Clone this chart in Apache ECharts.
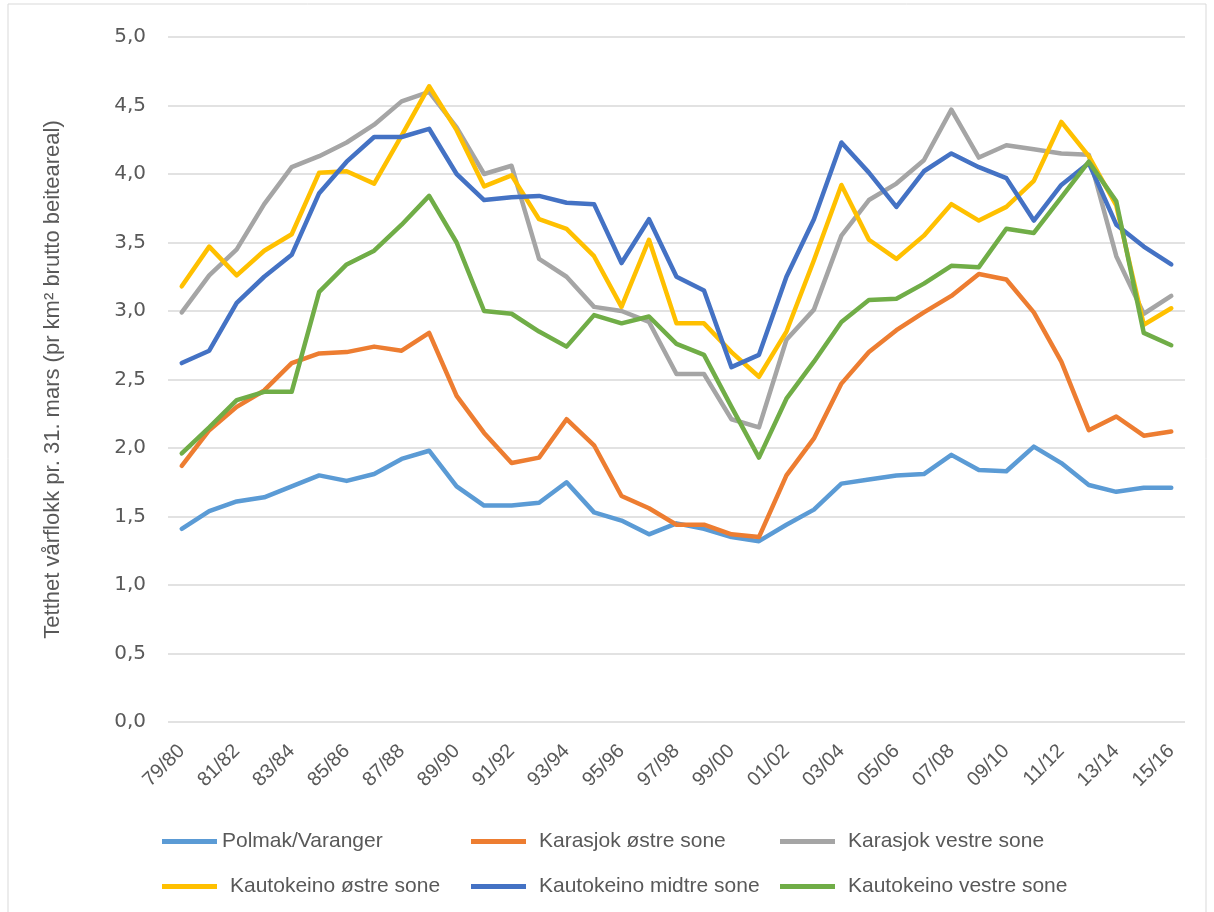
<!DOCTYPE html>
<html>
<head>
<meta charset="utf-8">
<title>Tetthet vårflokk</title>
<script src="https://cdn.jsdelivr.net/npm/echarts@6/dist/echarts.min.js"></script>
<style>
  html, body { margin: 0; padding: 0; background: #fff; }
  #chart { width: 1214px; height: 912px; }
</style>
</head>
<body>
<div id="chart"></div>
<script>
// sesonger (x-akse)
var seasons = ['79/80','80/81','81/82','82/83','83/84','84/85','85/86','86/87','87/88','88/89',
  '89/90','90/91','91/92','92/93','93/94','94/95','95/96','96/97','97/98','98/99',
  '99/00','00/01','01/02','02/03','03/04','04/05','05/06','06/07','07/08','08/09',
  '09/10','10/11','11/12','12/13','13/14','14/15','15/16'];

var polmak = [1.41,1.54,1.61,1.64,1.72,1.80,1.76,1.81,1.92,1.98,1.72,1.58,1.58,1.60,1.75,1.53,1.47,1.37,1.45,1.41,
  1.35,1.32,1.44,1.55,1.74,1.77,1.80,1.81,1.95,1.84,1.83,2.01,1.89,1.73,1.68,1.71,1.71];
var karasjokOst = [1.87,2.13,2.30,2.42,2.62,2.69,2.70,2.74,2.71,2.84,2.38,2.11,1.89,1.93,2.21,2.02,1.65,1.56,1.44,1.44,
  1.37,1.35,1.80,2.07,2.47,2.70,2.86,2.99,3.11,3.27,3.23,2.99,2.63,2.13,2.23,2.09,2.12];
var karasjokVest = [2.99,3.26,3.45,3.78,4.05,4.13,4.23,4.36,4.53,4.60,4.34,4.00,4.06,3.38,3.25,3.03,3.00,2.92,2.54,2.54,
  2.21,2.15,2.79,3.01,3.55,3.81,3.93,4.10,4.47,4.12,4.21,4.18,4.15,4.14,3.40,2.98,3.11];
var kautoOst = [3.18,3.47,3.26,3.44,3.56,4.01,4.02,3.93,4.28,4.64,4.32,3.91,3.99,3.67,3.60,3.40,3.03,3.52,2.91,2.91,
  2.70,2.52,2.85,3.37,3.92,3.52,3.38,3.55,3.78,3.66,3.76,3.95,4.38,4.13,3.77,2.90,3.02];
var kautoMidt = [2.62,2.71,3.06,3.25,3.41,3.86,4.09,4.27,4.27,4.33,4.00,3.81,3.83,3.84,3.79,3.78,3.35,3.67,3.25,3.15,
  2.59,2.68,3.25,3.67,4.23,4.01,3.76,4.02,4.15,4.05,3.97,3.66,3.92,4.08,3.63,3.47,3.34];
var kautoVest = [1.96,2.15,2.35,2.41,2.41,3.14,3.34,3.44,3.63,3.84,3.50,3.00,2.98,2.85,2.74,2.97,2.91,2.96,2.76,2.68,
  2.30,1.93,2.36,2.63,2.92,3.08,3.09,3.20,3.33,3.32,3.60,3.57,3.83,4.09,3.80,2.84,2.75];

var names = ['Polmak/Varanger','Karasjok østre sone','Karasjok vestre sone',
  'Kautokeino østre sone','Kautokeino midtre sone','Kautokeino vestre sone'];
var colors = ['#5B9BD5','#ED7D31','#A5A5A5','#FFC000','#4472C4','#70AD47'];
var values = [polmak, karasjokOst, karasjokVest, kautoOst, kautoMidt, kautoVest];

var textFont = '"Liberation Sans", Arial, sans-serif';

// én legende per serie, 3 kolonner x 2 rader
var legendLeft = [157, 466, 775];
var legendTop = [826, 871];
var legends = names.map(function (n, i) {
  return {
    top: legendTop[Math.floor(i / 3)],
    left: legendLeft[i % 3],
    itemWidth: 55,
    itemHeight: 5,
    itemGap: 0,
    icon: 'rect',
    data: [n],
    textStyle: { color: '#595959', fontSize: 21, fontFamily: textFont, padding: [0, 0, 0, i === 0 ? 0 : 8] }
  };
});

var chart = echarts.init(document.getElementById('chart'));
chart.setOption({
  backgroundColor: '#ffffff',
  animation: false,
  color: colors,
  graphic: [{
    type: 'rect',
    shape: { x: 8, y: 4, width: 1198, height: 930 },
    style: { fill: 'none', stroke: '#d9d9d9', lineWidth: 1 },
    silent: true
  }],
  legend: legends,
  grid: { left: 168, right: 29, top: 37, bottom: 190 },
  xAxis: {
    type: 'category',
    data: seasons,
    boundaryGap: true,
    axisLine: { show: false },
    axisTick: { show: false },
    axisLabel: {
      interval: 1,
      rotate: 45,
      margin: 26,
      color: '#595959',
      fontSize: 20,
      fontFamily: textFont
    }
  },
  yAxis: {
    type: 'value',
    min: 0,
    max: 5,
    interval: 0.5,
    name: 'Tetthet vårflokk pr. 31. mars (pr km² brutto beiteareal)',
    nameLocation: 'middle',
    nameGap: 104,
    nameRotate: 90,
    nameTextStyle: { color: '#595959', fontSize: 22, fontFamily: textFont },
    axisLine: { show: false },
    axisTick: { show: false },
    splitLine: { lineStyle: { color: '#d9d9d9', width: 1.5 } },
    axisLabel: {
      margin: 22,
      color: '#595959',
      fontSize: 20,
      fontFamily: '"DejaVu Sans", sans-serif',
      formatter: function (v) { return v.toFixed(1).replace('.', ','); }
    }
  },
  series: names.map(function (n, i) {
    return {
      name: n,
      type: 'line',
      data: values[i],
      symbol: 'none',
      lineStyle: { width: 4.5, color: colors[i], cap: 'round', join: 'round' },
      itemStyle: { color: colors[i] }
    };
  })
});
</script>
</body>
</html>
